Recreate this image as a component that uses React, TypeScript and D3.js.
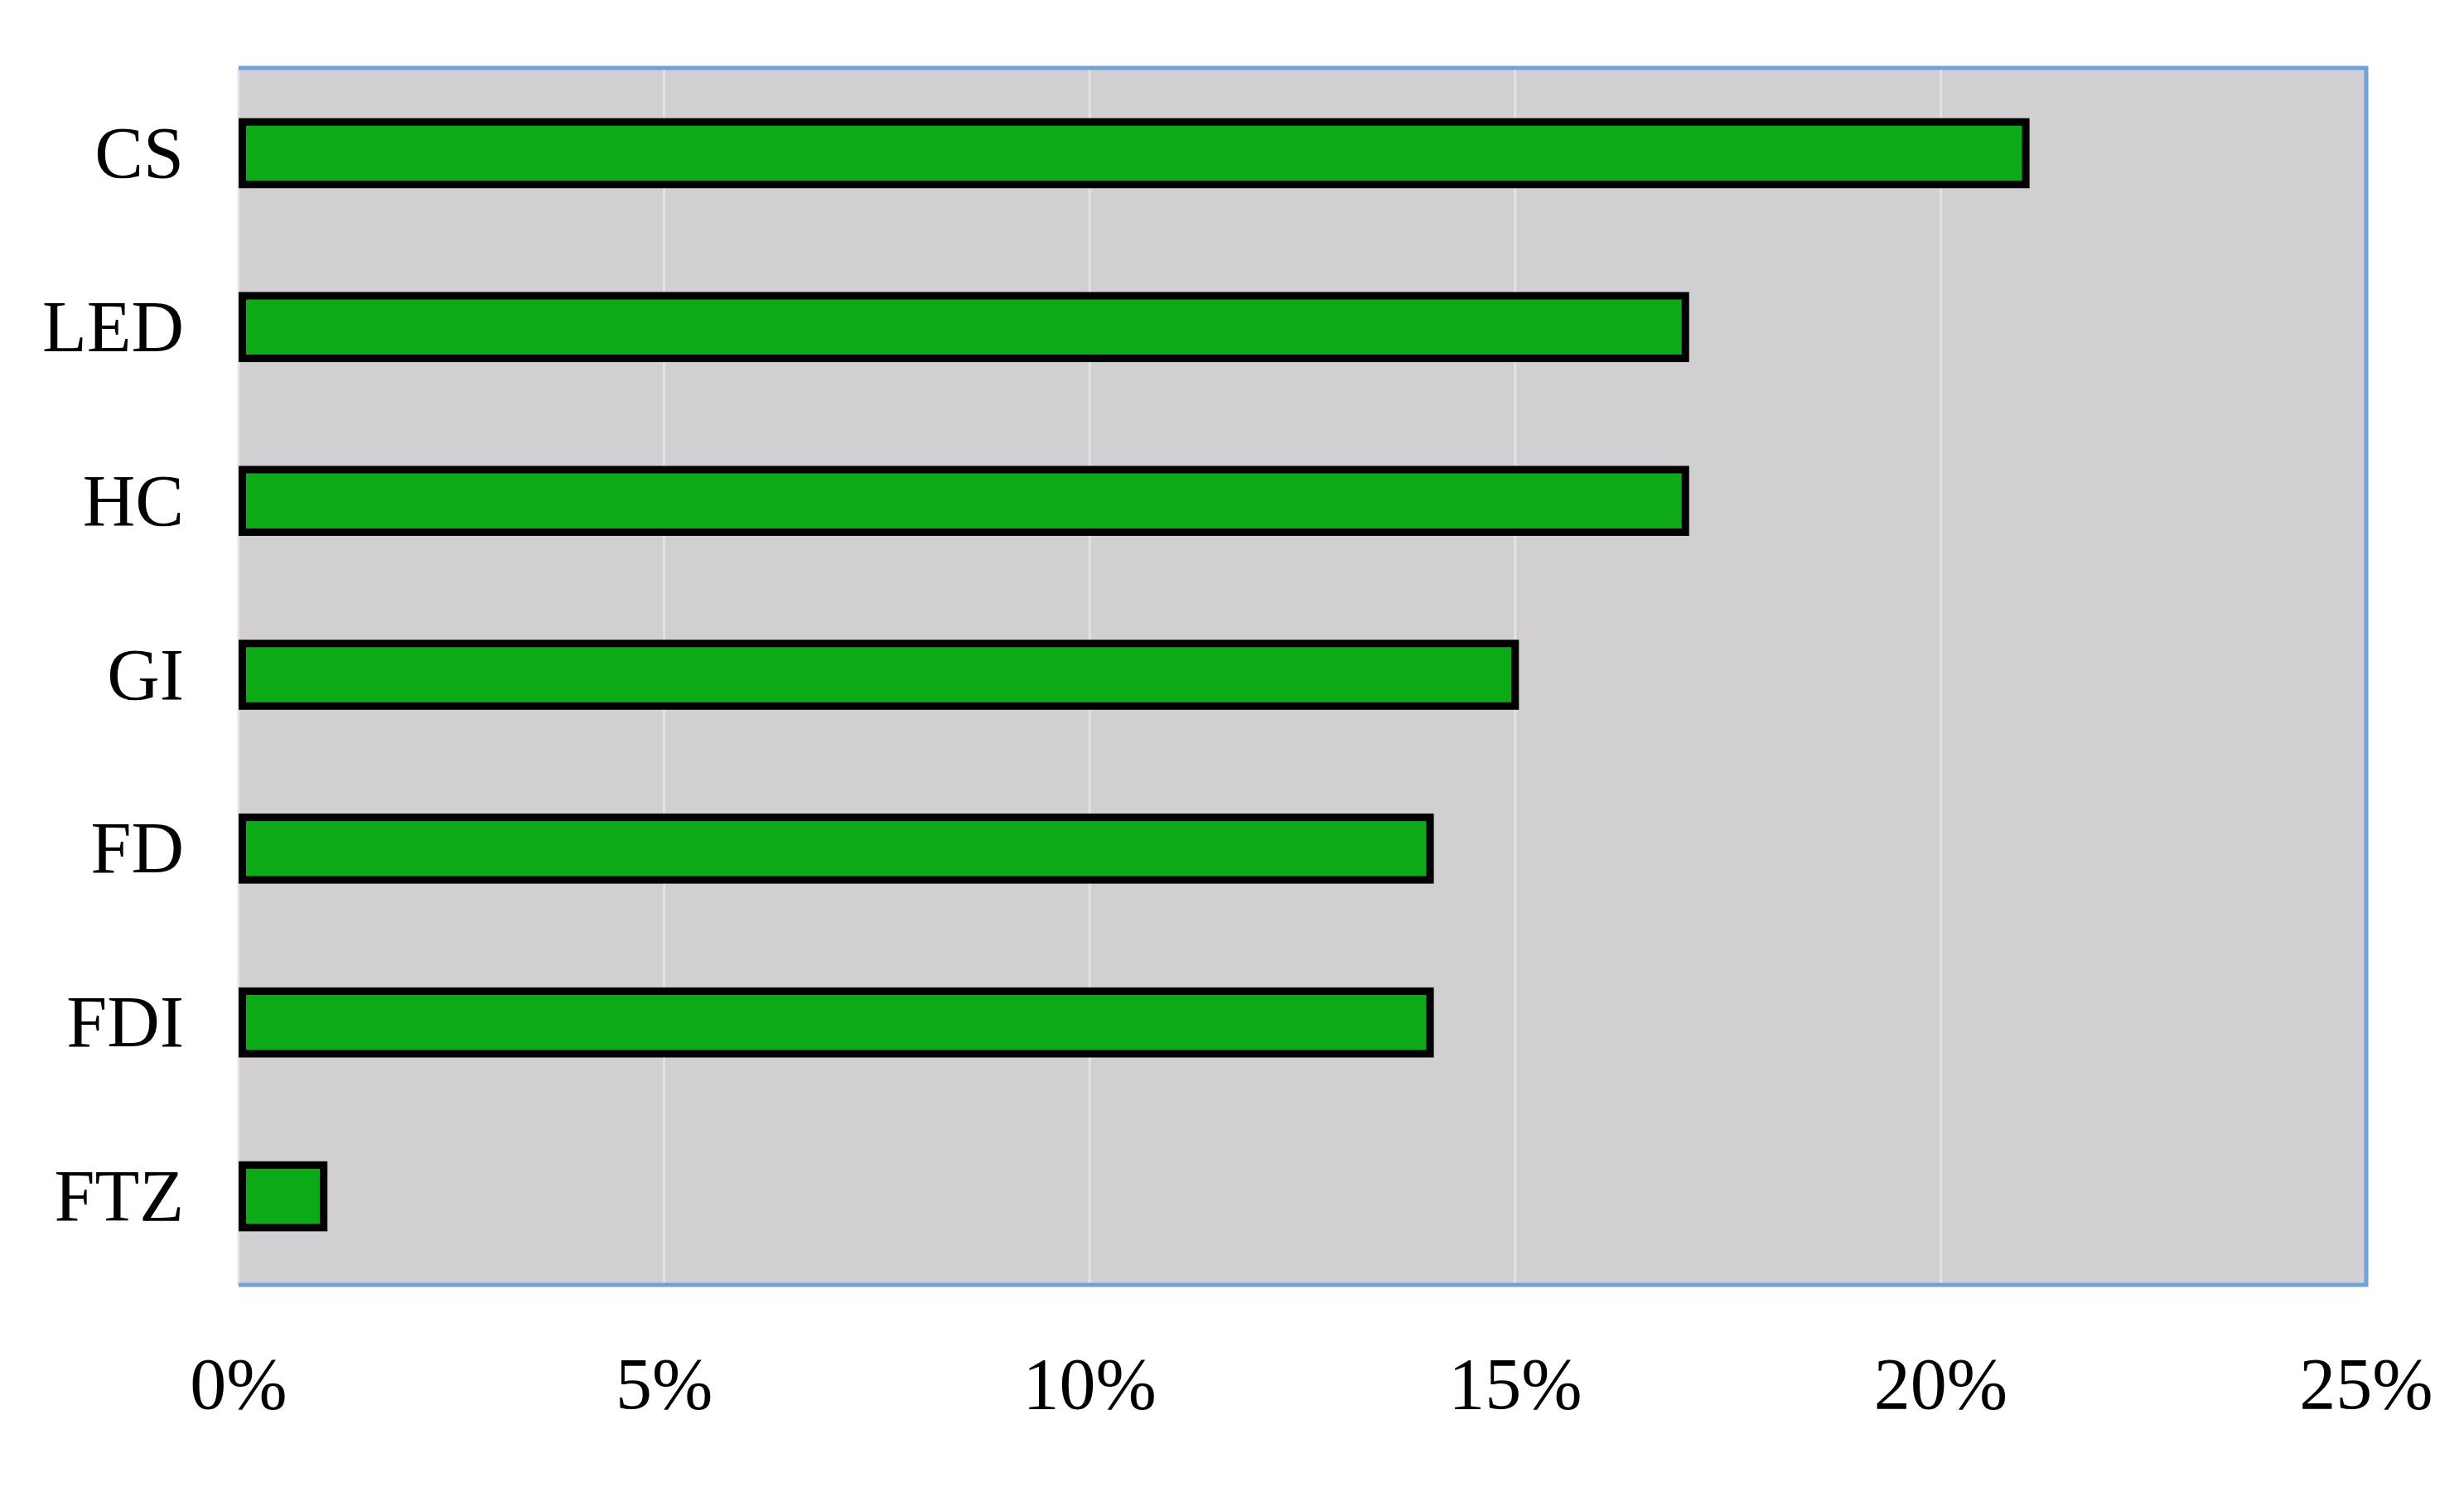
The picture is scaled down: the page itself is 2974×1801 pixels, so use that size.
import React from "react";
import * as d3 from "d3";

const categories = ["CS", "LED", "HC", "GI", "FD", "FDI", "FTZ"];
const values = [0.21, 0.17, 0.17, 0.15, 0.14, 0.14, 0.01];
const tickValues = [0, 0.05, 0.1, 0.15, 0.2, 0.25];

const W = 2974;
const H = 1801;
const left = 288;
const right = 2856;
const top = 82;
const bottom = 1551;

export default function App() {
  const x = d3.scaleLinear().domain([0, 0.25]).range([left, right]);
  const y = d3
    .scaleBand<string>()
    .domain(categories)
    .range([top - 2, bottom - 2])
    .paddingInner(0.64)
    .paddingOuter(0.32);
  const fmt = d3.format(".0%");
  const font = "'Liberation Serif', 'Times New Roman', serif";
  return (
    <svg
      width={W}
      height={H}
      style={{ position: "absolute", left: 0, top: 0, background: "#fff" }}
    >
      <rect x={left} y={top} width={right - left} height={bottom - top} fill="#D1CFD1" />
      {tickValues.map((t) => (
        <line
          key={"g" + t}
          x1={x(t)}
          x2={x(t)}
          y1={top}
          y2={bottom}
          stroke="#E4E2E4"
          strokeWidth={3}
        />
      ))}
      <path
        d={`M${left},${top}H${right}V${bottom}H${left}`}
        fill="none"
        stroke="#6FA2D8"
        strokeWidth={5}
      />
      {categories.map((c, i) => (
        <rect
          key={c}
          x={x(0) + 4.5}
          y={y(c)!}
          width={x(values[i]) - x(0) - 4.5}
          height={y.bandwidth()}
          fill="#0BAA16"
          stroke="#000"
          strokeWidth={9}
        />
      ))}
      {categories.map((c) => (
        <text
          key={"l" + c}
          x={222}
          y={y(c)! + y.bandwidth() / 2 + 29}
          textAnchor="end"
          fontFamily={font}
          fontSize={88}
          fill="#000"
        >
          {c}
        </text>
      ))}
      {tickValues.map((t) => (
        <text
          key={"t" + t}
          x={x(t)}
          y={1700}
          textAnchor="middle"
          fontFamily={font}
          fontSize={88}
          fill="#000"
        >
          {fmt(t)}
        </text>
      ))}
    </svg>
  );
}
